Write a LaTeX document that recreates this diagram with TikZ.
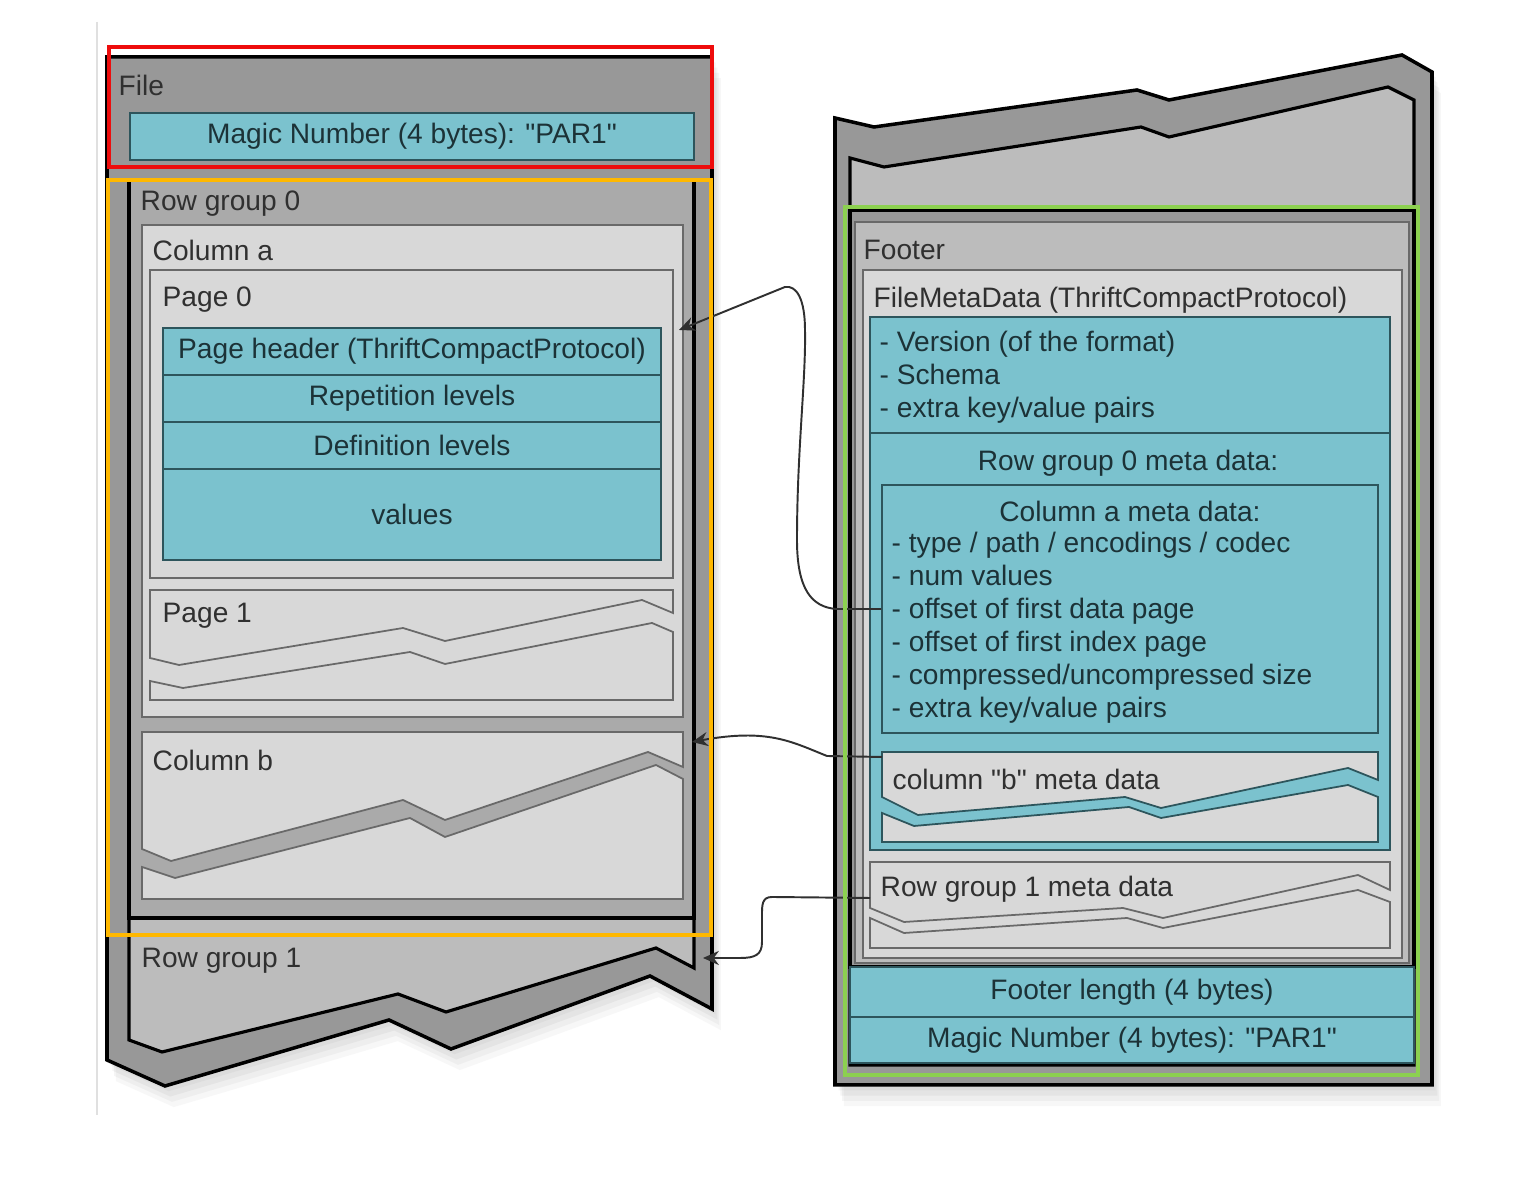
\documentclass[tikz,border=0pt]{standalone}
\usepackage{fontspec}
\setmainfont{Liberation Sans}
\usetikzlibrary{fit,shadows,arrows.meta}

\definecolor{tealfill}{RGB}{123,194,206}
\definecolor{tealline}{RGB}{45,85,92}
\definecolor{tealink}{RGB}{28,50,55}
\definecolor{paper}{RGB}{216,216,216}
\definecolor{rowgray}{RGB}{170,170,170}
\definecolor{shellgray}{RGB}{152,152,152}
\definecolor{innergray}{RGB}{188,188,188}
\definecolor{edgegray}{RGB}{105,105,105}
\definecolor{inkgray}{RGB}{48,48,48}
\definecolor{markred}{RGB}{238,12,12}
\definecolor{markorange}{RGB}{255,184,0}
\definecolor{markgreen}{RGB}{140,208,80}

\tikzset{
  shell/.style={fill=shellgray,draw=black,line width=1pt,
    drop shadow={opacity=0.08,shadow xshift=1pt,shadow yshift=-1.5pt},
    drop shadow={opacity=0.08,shadow xshift=1.5pt,shadow yshift=-3pt},
    drop shadow={opacity=0.08,shadow xshift=2pt,shadow yshift=-4.5pt},
    drop shadow={opacity=0.06,shadow xshift=2.5pt,shadow yshift=-6pt}},
  inside/.style={fill=innergray,draw=black,line width=0.9pt},
  group/.style={fill=rowgray,draw=black,line width=0.9pt,inner sep=0pt},
  sheet/.style={fill=paper,draw=edgegray,line width=0.5pt},
  cell/.style={fill=tealfill,draw=tealline,line width=0.5pt,inner sep=0pt},
  txt/.style={inner sep=0pt,text=inkgray,font=\fontsize{8}{9.4}\selectfont},
  celltxt/.style={txt,text=tealink},
  tag/.style={txt,anchor=west},
  hilite/.style={draw=#1,line width=1.1pt},
  link/.style={->,>={Stealth[length=4.5pt,width=4pt]},draw=inkgray,line width=0.55pt},
}

\begin{document}
\begin{tikzpicture}[x=0.01cm,y=-0.01cm]
        \fill[white] (0,0) rectangle (1538,1180);
        \useasboundingbox (0,0) rectangle (1538,1180);
        \draw[black!12,line width=0.6pt] (97,22) -- (97,1115);

        % file, start
        \draw[shell] (107,57) -- (712,57) -- (712,1009) -- (650,976) -- (451,1049)
              -- (389,1020) -- (165,1086) -- (107,1060) -- cycle;
        \node[tag] (file) at (118,85) {File};
        \node[cell,fit={(130,113) (694,160)}] (magic1) {};
        \node[celltxt] at (magic1) {Magic Number (4 bytes): \textquotedbl PAR1\textquotedbl};

        \draw[inside] (129,900) -- (129,1040) -- (162,1052) -- (398,994) -- (446,1012)
              -- (656,948) -- (694,968) -- (694,900) -- cycle;
        \node[tag] (rg1lbl) at (141,961) {Row group 1};
        \node[group,fit={(129,180) (694,918)}] (rg0) {};
        \node[tag] (rg0lbl) at (140,204) {Row group 0};

        \node[sheet,fit={(142,225) (683,717)},inner sep=0pt] (cola) {};
        \node[tag] (colalbl) at (152,250) {Column a};
        \node[sheet,fit={(150,270) (673,578)},inner sep=0pt] (page0) {};
        \node[tag] (page0lbl) at (162,300) {Page 0};
        \node[cell,fit={(163,328) (661,375)}] (hdr) {};
        \node[cell,fit={(163,375) (661,422)}] (rep) {};
        \node[cell,fit={(163,422) (661,469)}] (def) {};
        \node[cell,fit={(163,469) (661,560)}] (vals) {};
        \node[celltxt] at (hdr) {Page header (ThriftCompactProtocol)};
        \node[celltxt] at (rep) {Repetition levels};
        \node[celltxt] at (def) {Definition levels};
        \node[celltxt] at (vals) {values};

        \draw[sheet] (150,590) -- (673,590) -- (673,613) -- (642,600) -- (445,641)
              -- (403,628) -- (179,665) -- (150,658) -- cycle;
        \draw[sheet] (150,681) -- (183,688) -- (410,652) -- (445,664) -- (652,623)
              -- (673,632) -- (673,700) -- (150,700) -- cycle;
        \node[tag] (page1lbl) at (162,616) {Page 1};

        \draw[sheet] (142,732) -- (683,732) -- (683,767) -- (648,752) -- (445,820)
              -- (403,800) -- (171,861) -- (142,849) -- cycle;
        \draw[sheet] (142,867) -- (175,878) -- (410,818) -- (445,837) -- (656,765)
              -- (683,779) -- (683,899) -- (142,899) -- cycle;
        \node[tag] (colblbl) at (152,760) {Column b};

        % file, end
        \draw[shell] (835,118) -- (874,127) -- (1137,90) -- (1169,100) -- (1402,55)
              -- (1432,72) -- (1432,1085) -- (835,1085) -- cycle;
        \draw[inside] (850,158) -- (884,167) -- (1141,127) -- (1169,137) -- (1388,87)
              -- (1414,100) -- (1414,1065) -- (850,1065) -- cycle;
        \draw[fill=shellgray,draw=black,line width=0.9pt] (850,210) rectangle (1414,967);
        \node[fill=innergray,draw=edgegray,line width=0.5pt,inner sep=0pt,
              fit={(855,222) (1409,963)}] (footer) {};
        \node[tag] (footerlbl) at (863,250) {Footer};
        \node[sheet,fit={(863,270) (1402,958)},inner sep=0pt] (fmd) {};
        \node[tag] (fmdlbl) at (873,300) {FileMetaData (ThriftCompactProtocol)};

        \node[cell,fit={(870,317) (1390,433)}] (fmdinfo) {};
        \node[tag,text=tealink,align=left] at (879,377)
              {- Version (of the format)\\- Schema\\- extra key/value pairs};
        \node[cell,fit={(870,433) (1390,850)}] (rg0meta) {};
        \node[celltxt] at (1128,463) {Row group 0 meta data:};
        \node[cell,fit={(882,485) (1378,733)}] (colameta) {};
        \node[celltxt] at (1130,511) {Column a meta data:};
        \node[tag,text=tealink,align=left] (colalist) at (891,628)
              {- type / path / encodings / codec\\- num values\\- offset of first data page\\
               - offset of first index page\\- compressed/uncompressed size\\- extra key/value pairs};

        \draw[sheet,draw=tealline] (882,752) -- (1378,752) -- (1378,780) -- (1348,768)
              -- (1161,808) -- (1125,797) -- (918,815) -- (882,797) -- cycle;
        \draw[sheet,draw=tealline] (882,813) -- (914,826) -- (1129,807) -- (1161,818)
              -- (1348,785) -- (1378,797) -- (1378,842) -- (882,842) -- cycle;
        \node[tag] (colbmlbl) at (892,779) {column \textquotedbl b\textquotedbl{} meta data};

        \draw[sheet] (870,862) -- (1390,862) -- (1390,890) -- (1358,875) -- (1163,918)
              -- (1123,908) -- (904,922) -- (870,908) -- cycle;
        \draw[sheet] (870,918) -- (904,933) -- (1127,918) -- (1163,928) -- (1358,890)
              -- (1390,902) -- (1390,948) -- (870,948) -- cycle;
        \node[tag] (rg1mlbl) at (880,889) {Row group 1 meta data};

        \node[cell,fit={(850,967) (1414,1017)}] (footlen) {};
        \node[cell,fit={(850,1017) (1414,1063)}] (magic2) {};
        \node[celltxt] at (footlen) {Footer length (4 bytes)};
        \node[celltxt] at (magic2) {Magic Number (4 bytes): \textquotedbl PAR1\textquotedbl};

        % offsets
        \coordinate (page0in) at (679,330);
        \coordinate (colbin) at (692,742);
        \coordinate (rg1in) at (703,958);
        \coordinate (colbm) at (882,757);
        \coordinate (rg1m) at (870,898);
        \draw[link] (colameta.west) -- ++(-45,0) .. controls (812,607) and (797,590) .. (797,540)
              .. controls (797,450) and (806,380) .. (805,330)
              .. controls (805,300) and (797,285) .. (785,287) -- (page0in);
        \draw[link] (colbm) -- (827,756) .. controls (792,742) and (768,728) .. (colbin);
        \draw[link] (rg1m) -- (772,897) .. controls (762,897) and (762,905) .. (762,915)
              -- (762,942) .. controls (762,955) and (755,958) .. (740,958) -- (rg1in);

        \draw[hilite=markred] (109,47) rectangle (712,167);
        \draw[hilite=markorange] (108,180) rectangle (711,935);
        \draw[hilite=markgreen] (845,207) rectangle (1418,1075);
    \end{tikzpicture}
\end{document}
